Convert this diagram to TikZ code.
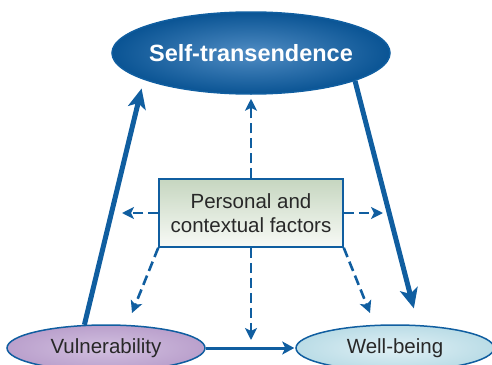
\documentclass[tikz,border=0pt]{standalone}
\usepackage{fontspec}
\setmainfont{Liberation Sans}
\usepackage{xcolor}
\usetikzlibrary{arrows.meta, positioning, shapes.geometric, calc}
\definecolor{stblue}{RGB}{16,94,160}
\definecolor{stdark}{RGB}{10,84,148}
\definecolor{stlight}{RGB}{80,140,195}
\definecolor{txtgray}{RGB}{40,40,40}
\definecolor{lilac}{RGB}{186,160,204}
\definecolor{lilaclt}{RGB}{210,192,224}
\definecolor{aqua}{RGB}{186,220,230}
\definecolor{aqualt}{RGB}{224,240,245}
\definecolor{sage}{RGB}{198,214,192}
\definecolor{sagelt}{RGB}{248,250,246}
\tikzset{
  oval/.style={ellipse, draw=stblue, line width=1.5pt, inner sep=0pt,
               minimum width=198pt, minimum height=46pt,
               font=\fontsize{20.5}{24}\selectfont, text=txtgray},
  factbox/.style={rectangle, draw=stblue, line width=1.5pt,
                  top color=sage, bottom color=sagelt,
                  minimum width=184pt, minimum height=68pt, inner sep=0pt,
                  align=center, font=\fontsize{20.5}{24.5}\selectfont, text=txtgray},
  thickarr/.style={-{Stealth[length=20pt, width=18pt, inset=5pt]}, line width=5pt, stblue},
  arr/.style={-{Stealth[length=12pt, width=13pt, inset=3pt]}, line width=3pt, stblue},
  dasharr/.style={-{Stealth[length=12pt, width=12pt, inset=3pt]}, line width=2.6pt,
                  stblue, dash pattern=on 10pt off 5pt},
}

\begin{document}
\begin{tikzpicture}[x=1pt, y=-1pt]
  \useasboundingbox (0,0) rectangle (492,364);
  %% main concepts
  \node[oval, minimum width=278pt, minimum height=82pt, inner xsep=-5pt, text=white,
        inner color=stlight, outer color=stdark,
        font=\fontsize{23.5}{28}\selectfont\bfseries] (self) at (251,53) {Self-transendence};
  \node[factbox] (fact) at (251,213) {Personal and\\contextual factors};
  \node[oval, inner color=lilaclt, outer color=lilac] (vul) at (106,348) {Vulnerability};
  \node[oval, inner color=aqualt, outer color=aqua] (well) at (395,348) {Well-being};
  %% free ends of the dashed arrows
  \coordinate (pl) at (122,213);
  \coordinate (pr) at (383,213);
  \coordinate (dl) at (132,313);
  \coordinate (dr) at (370,313);
  \coordinate (dm) at (fact.south |- vul.east);
  %% solid paths
  \draw[thickarr, shorten >=9pt] (vul.133) -- (self.194);
  \draw[thickarr, shorten >=17pt] (self.345) -- (well.45.5);
  \draw[arr, shorten >=1pt] (vul.east) -- (well.west);
  %% dashed influences
  \draw[dasharr, shorten >=4pt] (fact.north) -- (self.south);
  \draw[dasharr, shorten >=8pt] (fact.south) -- (dm);
  \foreach \a/\b in {fact.west/pl, fact.east/pr, fact.south west/dl, fact.south east/dr}
    \draw[dasharr] (\a) -- (\b);
\end{tikzpicture}
\end{document}
